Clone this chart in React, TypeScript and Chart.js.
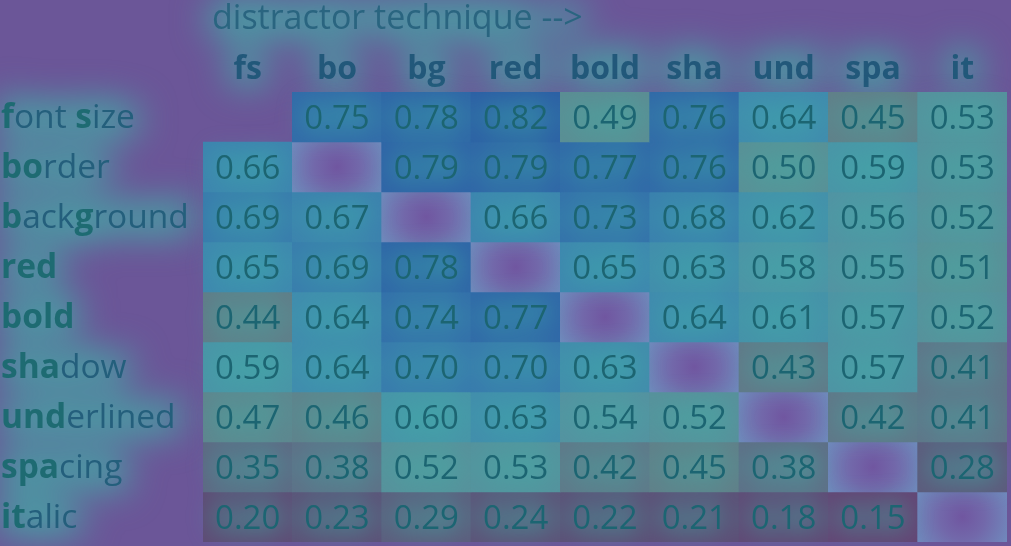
import { useEffect, useRef } from "react";
import { Chart, registerables } from "chart.js";

Chart.register(...registerables);

// ---- data ----
const columns = ["fs", "bo", "bg", "red", "bold", "sha", "und", "spa", "it"];
const rowLabels = ["font size", "border", "background", "red", "bold", "shadow", "underlined", "spacing", "italic"];
const rowBoldChars = [[0, 5], [0, 1], [0, 4], [0, 1, 2], [0, 1, 2, 3], [0, 1, 2], [0, 1, 2], [0, 1, 2], [0, 1]];
const titleText = "distractor technique -->";

const rowFontSize = [null, 0.75, 0.78, 0.82, 0.49, 0.76, 0.64, 0.45, 0.53];
const rowBorder = [0.66, null, 0.79, 0.79, 0.77, 0.76, 0.5, 0.59, 0.53];
const rowBackground = [0.69, 0.67, null, 0.66, 0.73, 0.68, 0.62, 0.56, 0.52];
const rowRed = [0.65, 0.69, 0.78, null, 0.65, 0.63, 0.58, 0.55, 0.51];
const rowBoldValues = [0.44, 0.64, 0.74, 0.77, null, 0.64, 0.61, 0.57, 0.52];
const rowShadow = [0.59, 0.64, 0.7, 0.7, 0.63, null, 0.43, 0.57, 0.41];
const rowUnderlined = [0.47, 0.46, 0.6, 0.63, 0.54, 0.52, null, 0.42, 0.41];
const rowSpacing = [0.35, 0.38, 0.52, 0.53, 0.42, 0.45, 0.38, null, 0.28];
const rowItalic = [0.2, 0.23, 0.29, 0.24, 0.22, 0.21, 0.18, 0.15, null];

const matrix: (number | null)[][] = [
  rowFontSize, rowBorder, rowBackground, rowRed, rowBoldValues,
  rowShadow, rowUnderlined, rowSpacing, rowItalic,
];

// ---- style ----
const FONT = "'Open Sans', 'Noto Sans', sans-serif";
const BG = "rgb(107,86,152)";
const GLOW_SOLID = "rgb(62,182,168)";
const NUM_COLOR = "#1c6572";
const LABEL_BOLD = "#1e6b72";
const LABEL_NORMAL = "#245f7c";
const HEADER_COLOR = "#22587a";
const TITLE_COLOR = "#2a6580";
const LABEL_FONT_SIZE = 33.5;
const TITLE_FONT_SIZE = 34;
const NUM_FONT_SIZE = 33;
const NUM_BASE_OFFSET = 12;

const colorStops: [number, number[]][] = [
  [0.15, [100, 68, 116]],
  [0.22, [93, 78, 118]],
  [0.3, [93, 94, 126]],
  [0.4, [95, 114, 136]],
  [0.45, [98, 126, 136]],
  [0.5, [90, 143, 150]],
  [0.55, [84, 146, 162]],
  [0.6, [72, 148, 168]],
  [0.65, [62, 135, 175]],
  [0.7, [56, 120, 173]],
  [0.75, [50, 106, 169]],
  [0.82, [44, 94, 165]],
];

function valueColor(v: number): string {
  if (v <= colorStops[0][0]) return `rgb(${colorStops[0][1].join(",")})`;
  for (let k = 1; k < colorStops.length; k++) {
    const [v1, c1] = colorStops[k];
    const [v0, c0] = colorStops[k - 1];
    if (v <= v1) {
      const t = (v - v0) / (v1 - v0);
      const c = c0.map((a, i) => Math.round(a + (c1[i] - a) * t));
      return `rgb(${c.join(",")})`;
    }
  }
  return `rgb(${colorStops[colorStops.length - 1][1].join(",")})`;
}

function labelRuns(label: string, bold: number[]) {
  const runs: { text: string; bold: boolean }[] = [];
  for (let i = 0; i < label.length; i++) {
    const b = bold.includes(i);
    const last = runs[runs.length - 1];
    if (last && last.bold === b) last.text += label[i];
    else runs.push({ text: label[i], bold: b });
  }
  return runs;
}

// draws text sources on an off-screen canvas, then blends it blurred onto the chart
function glowLayer(chart: any, blur: number, alpha: number, stroke: number, draw: (c: CanvasRenderingContext2D) => void) {
  const off = document.createElement("canvas");
  off.width = chart.width;
  off.height = chart.height;
  const o = off.getContext("2d") as CanvasRenderingContext2D;
  o.fillStyle = GLOW_SOLID;
  o.strokeStyle = GLOW_SOLID;
  o.lineWidth = stroke;
  o.lineJoin = "round";
  draw(o);
  const ctx = chart.ctx as CanvasRenderingContext2D;
  ctx.save();
  ctx.filter = `blur(${blur}px)`;
  ctx.globalAlpha = alpha;
  ctx.drawImage(off, 0, 0);
  ctx.restore();
}

function drawRowLabels(chart: any, c: CanvasRenderingContext2D, glow: boolean) {
  const ys = chart.scales.y;
  c.textAlign = "left";
  c.textBaseline = "alphabetic";
  rowLabels.forEach((label, i) => {
    const y = ys.getPixelForValue(i) + 11;
    let x = 1;
    labelRuns(label, rowBoldChars[i]).forEach((r) => {
      c.font = `${r.bold ? "bold " : ""}${LABEL_FONT_SIZE}px ${FONT}`;
      if (glow) {
        c.strokeText(r.text, x, y);
      } else {
        c.fillStyle = r.bold ? LABEL_BOLD : LABEL_NORMAL;
      }
      c.fillText(r.text, x, y);
      x += c.measureText(r.text).width;
    });
  });
}

function titlePos(chart: any) {
  return { x: chart.chartArea.left + 9, y: 29 };
}

const overlayPlugin = {
  id: "overlay",
  beforeDraw(chart: any) {
    const { ctx, width, height } = chart;
    ctx.save();
    ctx.fillStyle = BG;
    ctx.fillRect(0, 0, width, height);
    ctx.restore();
    glowLayer(chart, 18, 0.9, 12, (o) => {
      // header tick labels
      const items = chart.scales.x.getLabelItems();
      o.font = `bold 32px ${FONT}`;
      items.forEach((it: any) => {
        o.textAlign = it.options.textAlign;
        o.textBaseline = it.options.textBaseline;
        const x = it.options.translation[0];
        const y = it.options.translation[1] + it.textOffset;
        o.strokeText(String(it.label), x, y);
        o.fillText(String(it.label), x, y);
      });
      // title
      const t = titlePos(chart);
      o.font = `${TITLE_FONT_SIZE}px ${FONT}`;
      o.textAlign = "left";
      o.textBaseline = "alphabetic";
      o.strokeText(titleText, t.x, t.y);
      o.fillText(titleText, t.x, t.y);
      // row labels
      drawRowLabels(chart, o, true);
    });
    // title text
    const t = titlePos(chart);
    ctx.save();
    ctx.font = `${TITLE_FONT_SIZE}px ${FONT}`;
    ctx.textAlign = "left";
    ctx.textBaseline = "alphabetic";
    ctx.fillStyle = TITLE_COLOR;
    ctx.fillText(titleText, t.x, t.y);
    ctx.restore();
  },
  afterDatasetsDraw(chart: any) {
    glowLayer(chart, 13, 0.6, 6, (o) => {
      o.font = `${NUM_FONT_SIZE}px ${FONT}`;
      o.textAlign = "center";
      o.textBaseline = "alphabetic";
      matrix.forEach((row, i) => {
        chart.getDatasetMeta(i).data.forEach((el: any, j: number) => {
          const v = row[j];
          if (v == null) return;
          const y = (el.y + el.base) / 2 + NUM_BASE_OFFSET;
          o.strokeText(v.toFixed(2), el.x, y);
          o.fillText(v.toFixed(2), el.x, y);
        });
      });
    });
    const ctx = chart.ctx as CanvasRenderingContext2D;
    ctx.save();
    ctx.font = `${NUM_FONT_SIZE}px ${FONT}`;
    ctx.textAlign = "center";
    ctx.textBaseline = "alphabetic";
    ctx.fillStyle = NUM_COLOR;
    matrix.forEach((row, i) => {
      chart.getDatasetMeta(i).data.forEach((el: any, j: number) => {
        const v = row[j];
        if (v == null) return;
        ctx.fillText(v.toFixed(2), el.x, (el.y + el.base) / 2 + NUM_BASE_OFFSET);
      });
    });
    ctx.restore();
  },
  afterDraw(chart: any) {
    const ctx = chart.ctx as CanvasRenderingContext2D;
    ctx.save();
    drawRowLabels(chart, ctx, false);
    ctx.restore();
  },
};

export default function App() {
  const ref = useRef<HTMLCanvasElement>(null);
  useEffect(() => {
    document.body.style.margin = "0";
    const canvas = ref.current;
    if (!canvas) return;
    const datasets = matrix.map((row, i) => ({
      label: rowLabels[i],
      data: columns.map(() => [i - 0.5, i + 0.5]),
      backgroundColor: (c: any) => {
        const v = matrix[c.datasetIndex]?.[c.dataIndex];
        if (v == null) {
          if (c.datasetIndex === 0 && c.dataIndex === 0) return "rgba(0,0,0,0)";
          const xs = c.chart.scales?.x;
          const ys = c.chart.scales?.y;
          if (!xs || !ys) return "rgb(110,120,175)";
          const cx = xs.getPixelForValue(c.dataIndex);
          const cy = ys.getPixelForValue(c.datasetIndex);
          const g = c.chart.ctx.createRadialGradient(cx, cy, 0, cx, cy, 50);
          g.addColorStop(0, "rgb(112,86,160)");
          g.addColorStop(0.45, "rgb(114,104,170)");
          g.addColorStop(1, "rgb(112,136,188)");
          return g;
        }
        return valueColor(v);
      },
      borderWidth: 0,
      grouped: false,
      barPercentage: 1,
      categoryPercentage: 1,
    }));
    const chart = new Chart(canvas, {
      type: "bar",
      data: { labels: columns, datasets: datasets as any },
      plugins: [overlayPlugin],
      options: {
        animation: false,
        responsive: true,
        maintainAspectRatio: false,
        layout: { padding: { left: 203, right: 4, top: 0, bottom: 4 } },
        plugins: { legend: { display: false }, tooltip: { enabled: false } },
        scales: {
          x: {
            type: "category",
            position: "top",
            offset: true,
            grid: { display: false, drawTicks: false },
            border: { display: false },
            ticks: {
              color: HEADER_COLOR,
              font: { family: FONT, size: 32, weight: "bold" },
              padding: 3,
              maxRotation: 0,
              autoSkip: false,
            },
            afterFit: (s: any) => {
              s.height = 92;
            },
          },
          y: {
            type: "linear",
            min: -0.5,
            max: 8.5,
            reverse: true,
            display: false,
          },
        },
      } as any,
    });
    return () => chart.destroy();
  }, []);
  return (
    <div style={{ position: "fixed", left: 0, top: 0, width: 1011, height: 546 }}>
      <canvas ref={ref} />
    </div>
  );
}
